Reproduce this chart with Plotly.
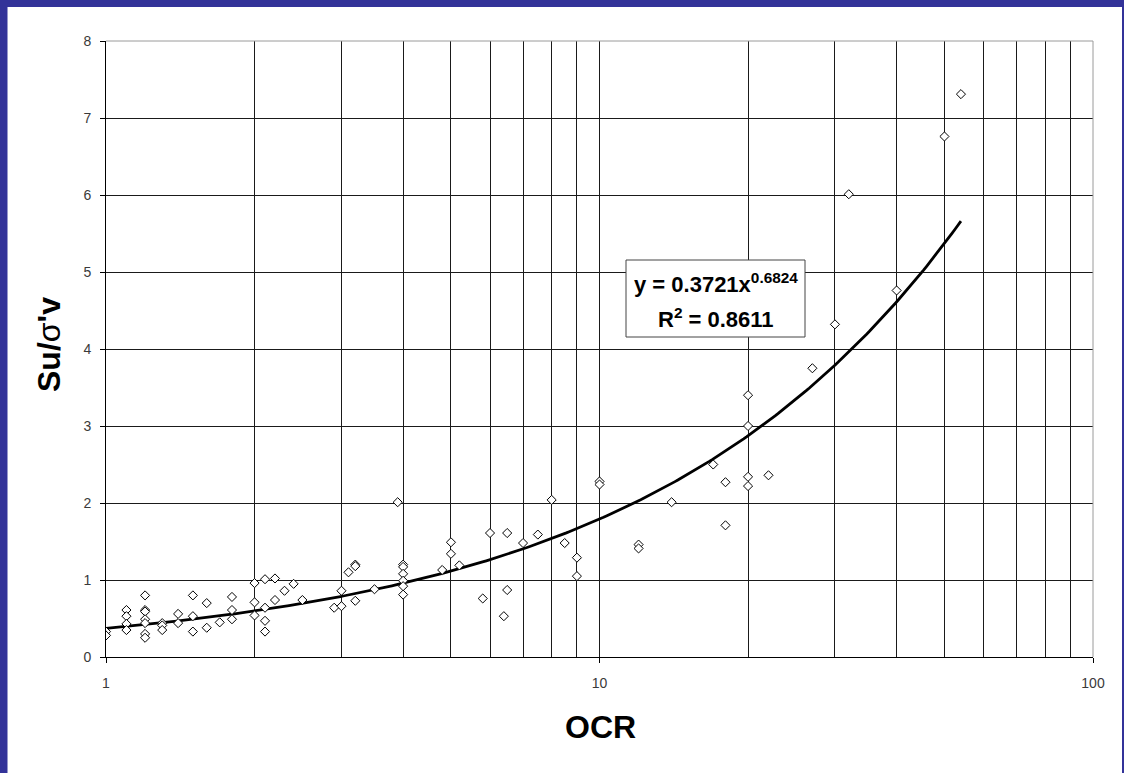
import numpy as np
import plotly.graph_objects as go

# Measured overconsolidation ratio (OCR) and normalised undrained strength Su/σ'v
ocr = [
    1.0, 1.0,
    1.1, 1.1, 1.1, 1.1,
    1.2, 1.2, 1.2, 1.2, 1.2, 1.2, 1.2,
    1.3, 1.3, 1.3,
    1.4, 1.4,
    1.5, 1.5, 1.5,
    1.6, 1.6,
    1.7,
    1.8, 1.8, 1.8,
    2.0, 2.0, 2.0,
    2.1, 2.1, 2.1, 2.1,
    2.2, 2.2,
    2.3, 2.4, 2.5, 2.9,
    3.0, 3.0,
    3.1,
    3.2, 3.2, 3.2,
    3.5, 3.9,
    4.0, 4.0, 4.0, 4.0, 4.0, 4.0,
    4.8,
    5.0, 5.0,
    5.2, 5.8, 6.0, 6.4,
    6.5, 6.5,
    7.0, 7.5, 8.0, 8.5,
    9.0, 9.0,
    10.0, 10.0,
    12.0, 12.0,
    14.0, 17.0,
    18.0, 18.0,
    20.0, 20.0, 20.0, 20.0,
    22.0, 27.0, 30.0, 32.0, 40.0, 50.0, 54.0,
]
su_ratio = [
    0.33, 0.28,
    0.61, 0.53, 0.43, 0.35,
    0.80, 0.61, 0.59, 0.49, 0.44, 0.30, 0.25,
    0.44, 0.41, 0.35,
    0.56, 0.44,
    0.80, 0.53, 0.33,
    0.70, 0.38,
    0.45,
    0.78, 0.61, 0.49,
    0.96, 0.71, 0.54,
    1.01, 0.64, 0.47, 0.33,
    1.02, 0.74,
    0.86, 0.95, 0.74, 0.64,
    0.86, 0.66,
    1.10,
    1.20, 1.18, 0.73,
    0.88, 2.01,
    1.20, 1.17, 1.08, 0.99, 0.92, 0.81,
    1.13,
    1.49, 1.34,
    1.19, 0.76, 1.61, 0.53,
    1.61, 0.87,
    1.48, 1.59, 2.04, 1.48,
    1.29, 1.05,
    2.28, 2.24,
    1.46, 1.41,
    2.01, 2.50,
    2.27, 1.71,
    3.40, 3.00, 2.34, 2.22,
    2.36, 3.75, 4.32, 6.01, 4.76, 6.76, 7.31,
]

# Power-law trend line  y = A * x^B
fit_a = 0.3721
fit_b = 0.6824
fit_r2 = 0.8611

x_ticks = [1, 10, 100]
x_minor = [2, 3, 4, 5, 6, 7, 8, 9, 20, 30, 40, 50, 60, 70, 80, 90]

W, H = 1124, 773
M_L, M_R, M_T, M_B = 106, 31, 41, 116
PW, PH = W - M_L - M_R, H - M_T - M_B


def px_x(px):
    return (px - M_L) / PW


def px_y(py):
    return (H - M_B - py) / PH


BLUE = "#333399"
GRID = "#1a1a1a"
TICKFONT = dict(family="Liberation Sans, Arial, sans-serif", size=14, color="#3a3a3a")
BOLD = "Liberation Sans, Arial, sans-serif"

fit_x = np.geomspace(min(ocr), max(ocr), 300)
fit_y = fit_a * fit_x ** fit_b

fig = go.Figure()
fig.add_trace(go.Scatter(
    x=fit_x, y=fit_y, mode="lines",
    line=dict(color="black", width=2.8),
    hoverinfo="skip", showlegend=False,
))
fig.add_trace(go.Scatter(
    x=ocr, y=su_ratio, mode="markers",
    marker=dict(symbol="diamond", size=7, color="white",
                line=dict(color="black", width=1)),
    showlegend=False,
))

fig.update_xaxes(
    type="log", range=[0, 2],
    tickvals=x_ticks, ticktext=[str(v) for v in x_ticks],
    ticks="outside", ticklen=5, tickcolor="black", tickwidth=1,
    ticklabelstandoff=8,
    showgrid=True, gridcolor=GRID, gridwidth=1,
    minor=dict(tickvals=x_minor, showgrid=True, gridcolor=GRID, gridwidth=1, ticks=""),
    showline=True, linecolor="black", linewidth=1,
    zeroline=False, tickfont=TICKFONT,
)
fig.update_yaxes(
    range=[0, 8], dtick=1,
    ticks="outside", ticklen=5, tickcolor="black", tickwidth=1,
    ticklabelstandoff=6,
    showgrid=True, gridcolor=GRID, gridwidth=1,
    showline=True, linecolor="black", linewidth=1,
    zeroline=False, tickfont=TICKFONT,
)

shapes = [
    # dark blue frame: left, top and right strips
    dict(type="rect", xref="paper", yref="paper", layer="above",
         x0=px_x(0), x1=px_x(7.5), y0=px_y(H), y1=px_y(0),
         fillcolor=BLUE, line=dict(width=0)),
    dict(type="rect", xref="paper", yref="paper", layer="above",
         x0=px_x(0), x1=px_x(W), y0=px_y(7), y1=px_y(0),
         fillcolor=BLUE, line=dict(width=0)),
    dict(type="rect", xref="paper", yref="paper", layer="above",
         x0=px_x(1122), x1=px_x(W), y0=px_y(H), y1=px_y(0),
         fillcolor=BLUE, line=dict(width=0)),
    # light frame on the top and right of the plot area
    dict(type="line", xref="paper", yref="paper", layer="above",
         x0=0, x1=1, y0=1, y1=1, line=dict(color="#9a9a9a", width=1)),
    dict(type="line", xref="paper", yref="paper", layer="above",
         x0=1, x1=1, y0=0, y1=1, line=dict(color="#9a9a9a", width=1)),
    # equation box
    dict(type="rect", xref="paper", yref="paper", layer="above",
         x0=px_x(626), x1=px_x(805), y0=px_y(337), y1=px_y(260),
         fillcolor="white", line=dict(color="#444444", width=1)),
]

annotations = [
    dict(xref="paper", yref="paper", x=px_x(716), y=px_y(283),
         xanchor="center", yanchor="middle", showarrow=False,
         text=f"<b>y = {fit_a:.4f}x<sup>{fit_b:.4f}</sup></b>",
         font=dict(family=BOLD, size=22, color="black")),
    dict(xref="paper", yref="paper", x=px_x(716), y=px_y(318),
         xanchor="center", yanchor="middle", showarrow=False,
         text=f"<b>R<sup>2</sup> = {fit_r2:.4f}</b>",
         font=dict(family=BOLD, size=22, color="black")),
    dict(xref="paper", yref="paper", x=px_x(600), y=px_y(727),
         xanchor="center", yanchor="middle", showarrow=False,
         text="<b>OCR</b>",
         font=dict(family=BOLD, size=32, color="black")),
    dict(xref="paper", yref="paper", x=px_x(49), y=px_y(345),
         xanchor="center", yanchor="middle", showarrow=False, textangle=-90,
         text="<b>Su/</b>σ<b>'v</b>",
         font=dict(family=BOLD, size=32, color="black")),
]

fig.update_layout(
    width=W, height=H,
    margin=dict(l=M_L, r=M_R, t=M_T, b=M_B),
    paper_bgcolor="white", plot_bgcolor="white",
    shapes=shapes, annotations=annotations,
    showlegend=False,
)

fig.write_html("out.html")
